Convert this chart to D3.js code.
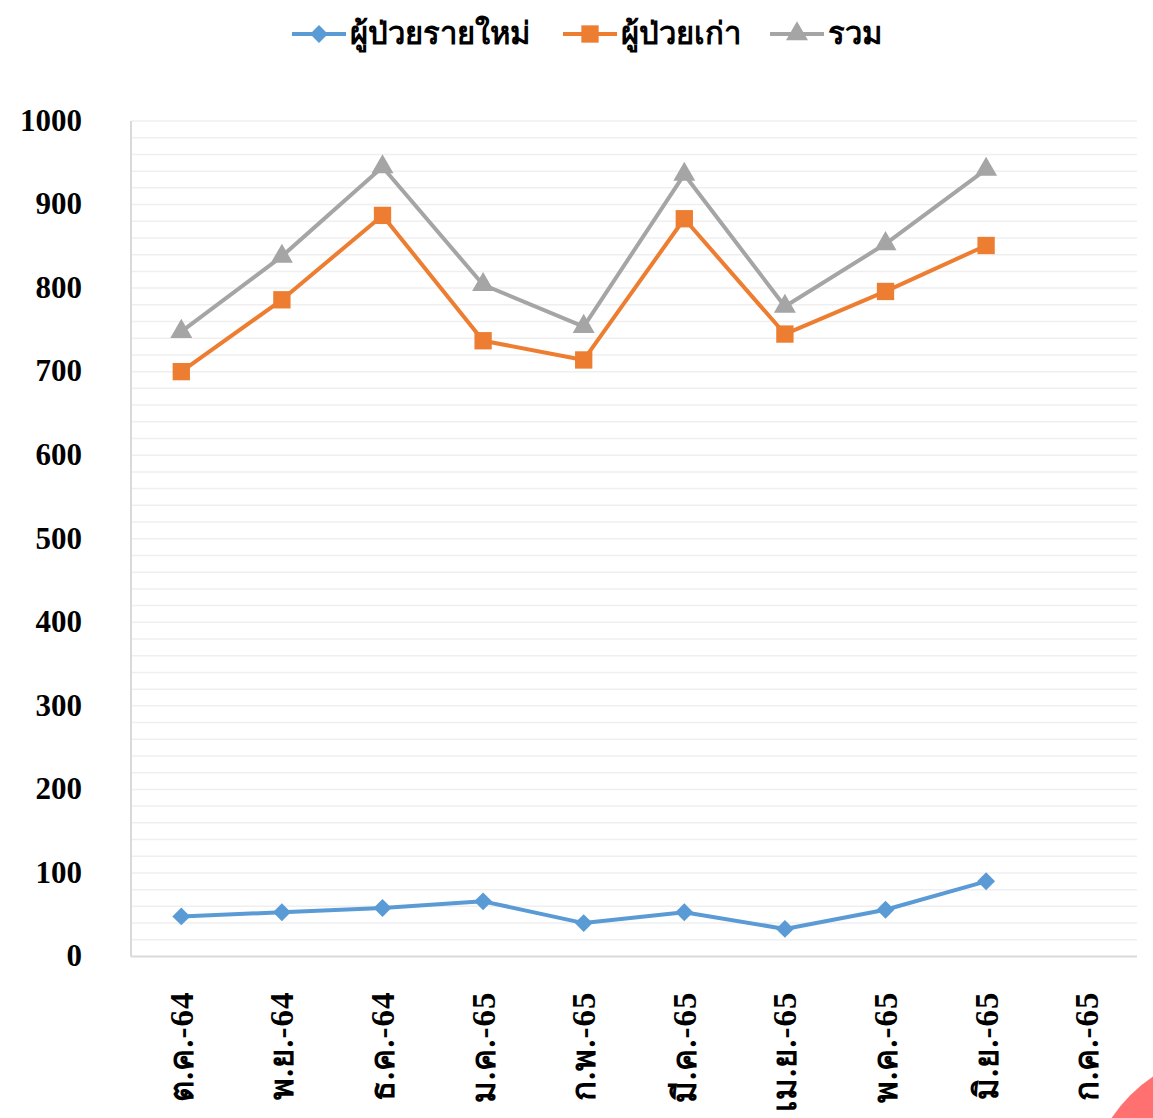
<!DOCTYPE html>
<html>
<head>
<meta charset="utf-8">
<script src="https://cdn.jsdelivr.net/npm/d3@7"></script>
<style>
  body { margin: 0; background: #fff; overflow: hidden; }
  svg { display: block; font-family: "Liberation Serif", "DejaVu Serif", serif; font-weight: bold; }
</style>
</head>
<body>
<svg id="chart" width="1153" height="1118"></svg>
<script>
// --- DATA ---
const months = ["ต.ค.-64", "พ.ย.-64", "ธ.ค.-64", "ม.ค.-65", "ก.พ.-65", "มี.ค.-65", "เม.ย.-65", "พ.ค.-65", "มิ.ย.-65", "ก.ค.-65"];
const newPatients = [48, 53, 58, 66, 40, 53, 33, 56, 90];
const oldPatients = [700, 786, 887, 737, 714, 883, 745, 796, 851];
const totalPatients = [748, 838, 945, 804, 754, 936, 778, 853, 942];
const yTicks = [0, 100, 200, 300, 400, 500, 600, 700, 800, 900, 1000];

const series = [
  { name: "ผู้ป่วยรายใหม่", values: newPatients, color: "#5b9bd5", marker: "diamond" },
  { name: "ผู้ป่วยเก่า", values: oldPatients, color: "#ed7d31", marker: "square" },
  { name: "รวม", values: totalPatients, color: "#a5a5a5", marker: "triangle" }
];

const svg = d3.select("#chart");
const plotL = 131, plotR = 1137, plotT = 121, plotB = 956.5;

// --- SCALES ---
const x = d3.scaleBand().domain(months).range([plotL, plotR]);
const y = d3.scaleLinear().domain([0, 1000]).range([plotB, plotT]);
const cx = d => x(d) + x.bandwidth() / 2;

// decorative corner shape
svg.append("circle").attr("cx", 1237).attr("cy", 1202).attr("r", 151).attr("fill", "#ff7171");

// --- GRID ---
svg.append("g").selectAll("line")
  .data(d3.range(20, 1001, 20)).join("line")
  .attr("x1", plotL).attr("x2", plotR)
  .attr("y1", d => y(d)).attr("y2", d => y(d))
  .attr("stroke", "#efefef").attr("stroke-width", 1.5);

svg.append("line").attr("x1", plotL).attr("x2", plotL).attr("y1", plotT).attr("y2", plotB)
  .attr("stroke", "#d9d9d9").attr("stroke-width", 2);
svg.append("line").attr("x1", plotL).attr("x2", plotR).attr("y1", plotB).attr("y2", plotB)
  .attr("stroke", "#d9d9d9").attr("stroke-width", 2);

// --- AXES ---
const yAxis = d3.axisLeft(y).tickValues(yTicks).tickSize(0).tickPadding(49).tickFormat(d3.format("d"));
svg.append("g").attr("transform", `translate(${plotL},0)`).call(yAxis)
  .call(g => g.select(".domain").remove())
  .selectAll("text")
  .attr("font-family", "Liberation Serif, serif").attr("font-weight", "bold")
  .attr("font-size", 31).attr("fill", "#000").attr("dy", "0.3em");

const xAxis = d3.axisBottom(x).tickSize(0);
svg.append("g").attr("transform", `translate(0,${plotB})`).call(xAxis)
  .call(g => g.select(".domain").remove())
  .selectAll("text")
  .attr("font-family", "Liberation Serif, serif").attr("font-weight", "bold")
  .attr("font-size", 33).attr("fill", "#000")
  .attr("text-anchor", "end")
  .attr("letter-spacing", 1)
  .attr("transform", "rotate(-90)")
  .attr("x", -35).attr("y", 0).attr("dy", "0.35em");

// --- LINES ---
const symbolFor = {
  diamond: d3.symbol().type(d3.symbolSquare).size(160),
  square: d3.symbol().type(d3.symbolSquare).size(300),
  triangle: d3.symbol().type(d3.symbolTriangle).size(210)
};
const rotFor = { diamond: 45, square: 0, triangle: 0 };

const line = d3.line().x((d, i) => cx(months[i])).y(d => y(d));

series.slice().reverse().forEach(s => {
  svg.append("path").datum(s.values)
    .attr("d", line).attr("fill", "none")
    .attr("stroke", s.color).attr("stroke-width", 4).attr("stroke-linejoin", "round");
  svg.append("g").selectAll("path")
    .data(s.values).join("path")
    .attr("d", symbolFor[s.marker])
    .attr("transform", (d, i) => `translate(${cx(months[i])},${y(d)}) rotate(${rotFor[s.marker]})`)
    .attr("fill", s.color);
});

// --- LEGEND ---
const legendX = [292, 563, 770];
const legend = svg.append("g").selectAll("g").data(series).join("g")
  .attr("transform", (d, i) => `translate(${legendX[i]},34)`);
legend.append("line").attr("x1", 0).attr("x2", 54).attr("stroke", d => d.color).attr("stroke-width", 4);
legend.append("path").attr("d", d => symbolFor[d.marker]())
  .attr("transform", d => `translate(27,0) rotate(${rotFor[d.marker]})`)
  .attr("fill", d => d.color);
legend.append("text").attr("x", 58).attr("y", 10)
  .attr("font-size", 31).attr("fill", "#000").text(d => d.name);
</script>
</body>
</html>
